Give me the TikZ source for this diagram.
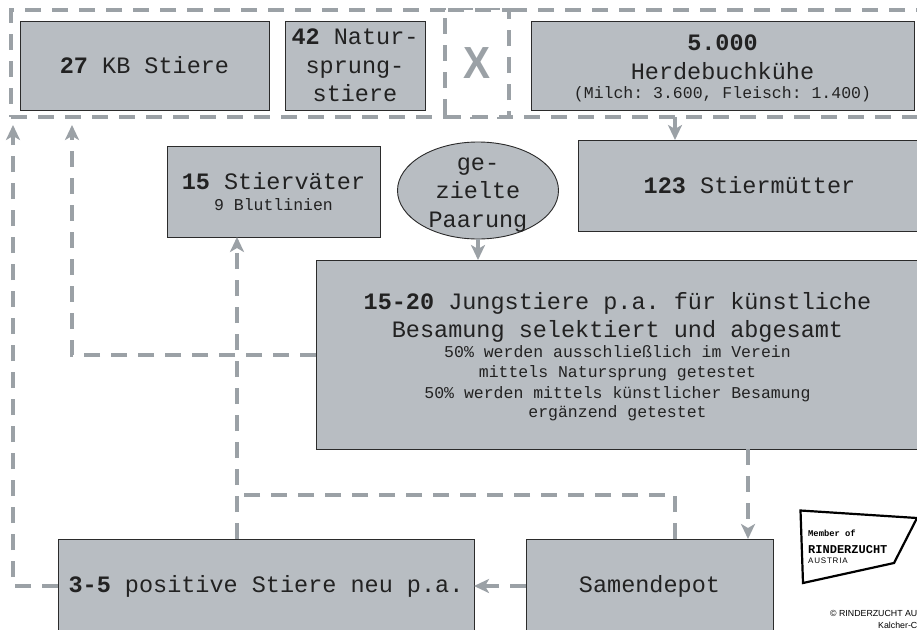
\documentclass[tikz,border=0pt]{standalone}
\usepackage{graphicx}
\usepackage{fontspec}
\setmainfont{Liberation Sans}
\setsansfont{Liberation Sans}
\setmonofont{Liberation Mono}
\usetikzlibrary{shapes.geometric,arrows.meta}
\definecolor{boxfill}{HTML}{B8BDC2}
\definecolor{boxedge}{HTML}{2B2B2B}
\definecolor{flowgray}{HTML}{9BA1A6}
\definecolor{inktext}{HTML}{222222}
\newcommand{\bigmono}{\ttfamily\fontsize{23.5}{28.5}\selectfont}
\newcommand{\smallmono}{\ttfamily\fontsize{16.5}{19.5}\selectfont}
\tikzset{
  x=1pt,y=-1pt,
  cardbox/.style={draw=boxedge,line width=0.9pt,fill=boxfill,inner sep=0pt,outer sep=0pt,align=center,text=inktext,font=\bigmono},
  groupbox/.style={draw=flowgray,line width=4pt,dash pattern=on 16pt off 11pt,inner sep=0pt,outer sep=0pt},
  flow/.style={draw=flowgray,line width=4pt,dash pattern=on 16pt off 11pt},
  flowtip/.style={flow,-{Stealth[length=15pt,width=14pt,inset=4pt]}},
  cardtext/.style={inner sep=0pt,outer sep=0pt,align=center,text=inktext,font=\bigmono},
}
\begin{document}
\begin{tikzpicture}
\useasboundingbox (0,0) rectangle (917,629);
\clip (0,0) rectangle (917,629);
\fill[white] (0,0) rectangle (917,629);

\node[groupbox,minimum width=920pt,minimum height=107pt] (outer) at (471,63.5) {};
\node[groupbox,fill=white,minimum width=64pt,minimum height=107pt,text=flowgray,font=\sffamily\bfseries\fontsize{45}{45}\selectfont] (xbox) at (477,63.5) {\scalebox{0.9}[1]{X}};

\node[cardbox,minimum width=249pt,minimum height=89pt] (kb) at (144.5,65.5) {\textbf{27} KB Stiere};
\node[cardbox,minimum width=140pt,minimum height=89pt] (natur) at (355,65.5) {\textbf{42} Natur-\\sprung-\\stiere};
\node[cardbox,minimum width=383pt,minimum height=89pt] (herde) at (722.5,65.5) {\rule{0pt}{21pt}\textbf{5.000}\\Herdebuchkühe\\[-9.5pt]{\smallmono (Milch: 3.600, Fleisch: 1.400)}};
\node[cardbox,minimum width=343pt,minimum height=91pt] (mutter) at (749.5,185.5) {\textbf{123} Stiermütter};
\node[cardbox,minimum width=213pt,minimum height=91pt] (vater) at (273.5,191.5) {\textbf{15} Stierväter\\[-7pt]{\smallmono 9 Blutlinien}};
\node[cardbox,ellipse,minimum width=161pt,minimum height=97pt] (paar) at (478,190.5) {};
\node[cardtext] (paartext) at (478,195) {ge-\\zielte\\Paarung};
\node[cardbox,minimum width=603pt,minimum height=189pt] (jung) at (617.5,354.5) {\rule{0pt}{21pt}\textbf{15-20} Jungstiere p.a. für künstliche\\Besamung selektiert und abgesamt\\[-8.5pt]{\smallmono 50\% werden ausschließlich im Verein}\\[-9pt]{\smallmono mittels Natursprung getestet}\\[-7.5pt]{\smallmono 50\% werden mittels künstlicher Besamung}\\[-9pt]{\smallmono ergänzend getestet}};
\node[cardbox,minimum width=416pt,minimum height=94pt] (pos) at (266,586) {\textbf{3-5} positive Stiere neu p.a.};
\node[cardbox,minimum width=247pt,minimum height=94pt] (depot) at (649.5,586) {Samendepot};

\coordinate (endA) at (13,125);
\coordinate (endB) at (72,125);
\coordinate (lineV) at (237,495);
\coordinate (lineM) at (675,495);
\coordinate (lineS) at (748,495);

\draw[flowtip] (pos.west) -| (endA);
\draw[flowtip] (jung.west) -| (endB);
\draw[flowtip] (outer.south -| lineM) -- (mutter.north -| lineM);
\draw[flowtip] (paar.south) -- (paar.south |- jung.north);
\draw[flowtip] (pos.north -| lineV) -- (vater.south -| lineV);
\draw[flow] (depot.north -| lineM) -- (lineM) -- (lineV);
\draw[flowtip] (jung.south -| lineS) -- (depot.north -| lineS);
\draw[flowtip] (depot.west) -- (pos.east);

\draw[black,line width=2.2pt,fill=white,line join=miter] (800.5,510.5) -- (917,518) -- (894,563) -- (803,583) -- cycle;
\node[anchor=base west,inner sep=0pt,font=\ttfamily\bfseries\fontsize{8.8}{8.8}\selectfont,text=black] (logoA) at (808,536) {Member of};
\node[anchor=base west,inner sep=0pt,font=\ttfamily\bfseries\fontsize{12}{12}\selectfont,text=black] (logoB) at (808,553) {RINDERZUCHT};
\node[anchor=base west,inner sep=0pt,font=\sffamily\fontsize{8}{8}\selectfont\addfontfeatures{LetterSpace=10},text=black] (logoC) at (808,563) {AUSTRIA};
\node[anchor=base west,inner sep=0pt,font=\sffamily\fontsize{8.8}{8.8}\selectfont,text=black] (copyA) at (830,616) {© RINDERZUCHT AU};
\node[anchor=base west,inner sep=0pt,font=\sffamily\fontsize{8.8}{8.8}\selectfont,text=black] (copyB) at (878,628) {Kalcher-C};
\end{tikzpicture}
\end{document}
